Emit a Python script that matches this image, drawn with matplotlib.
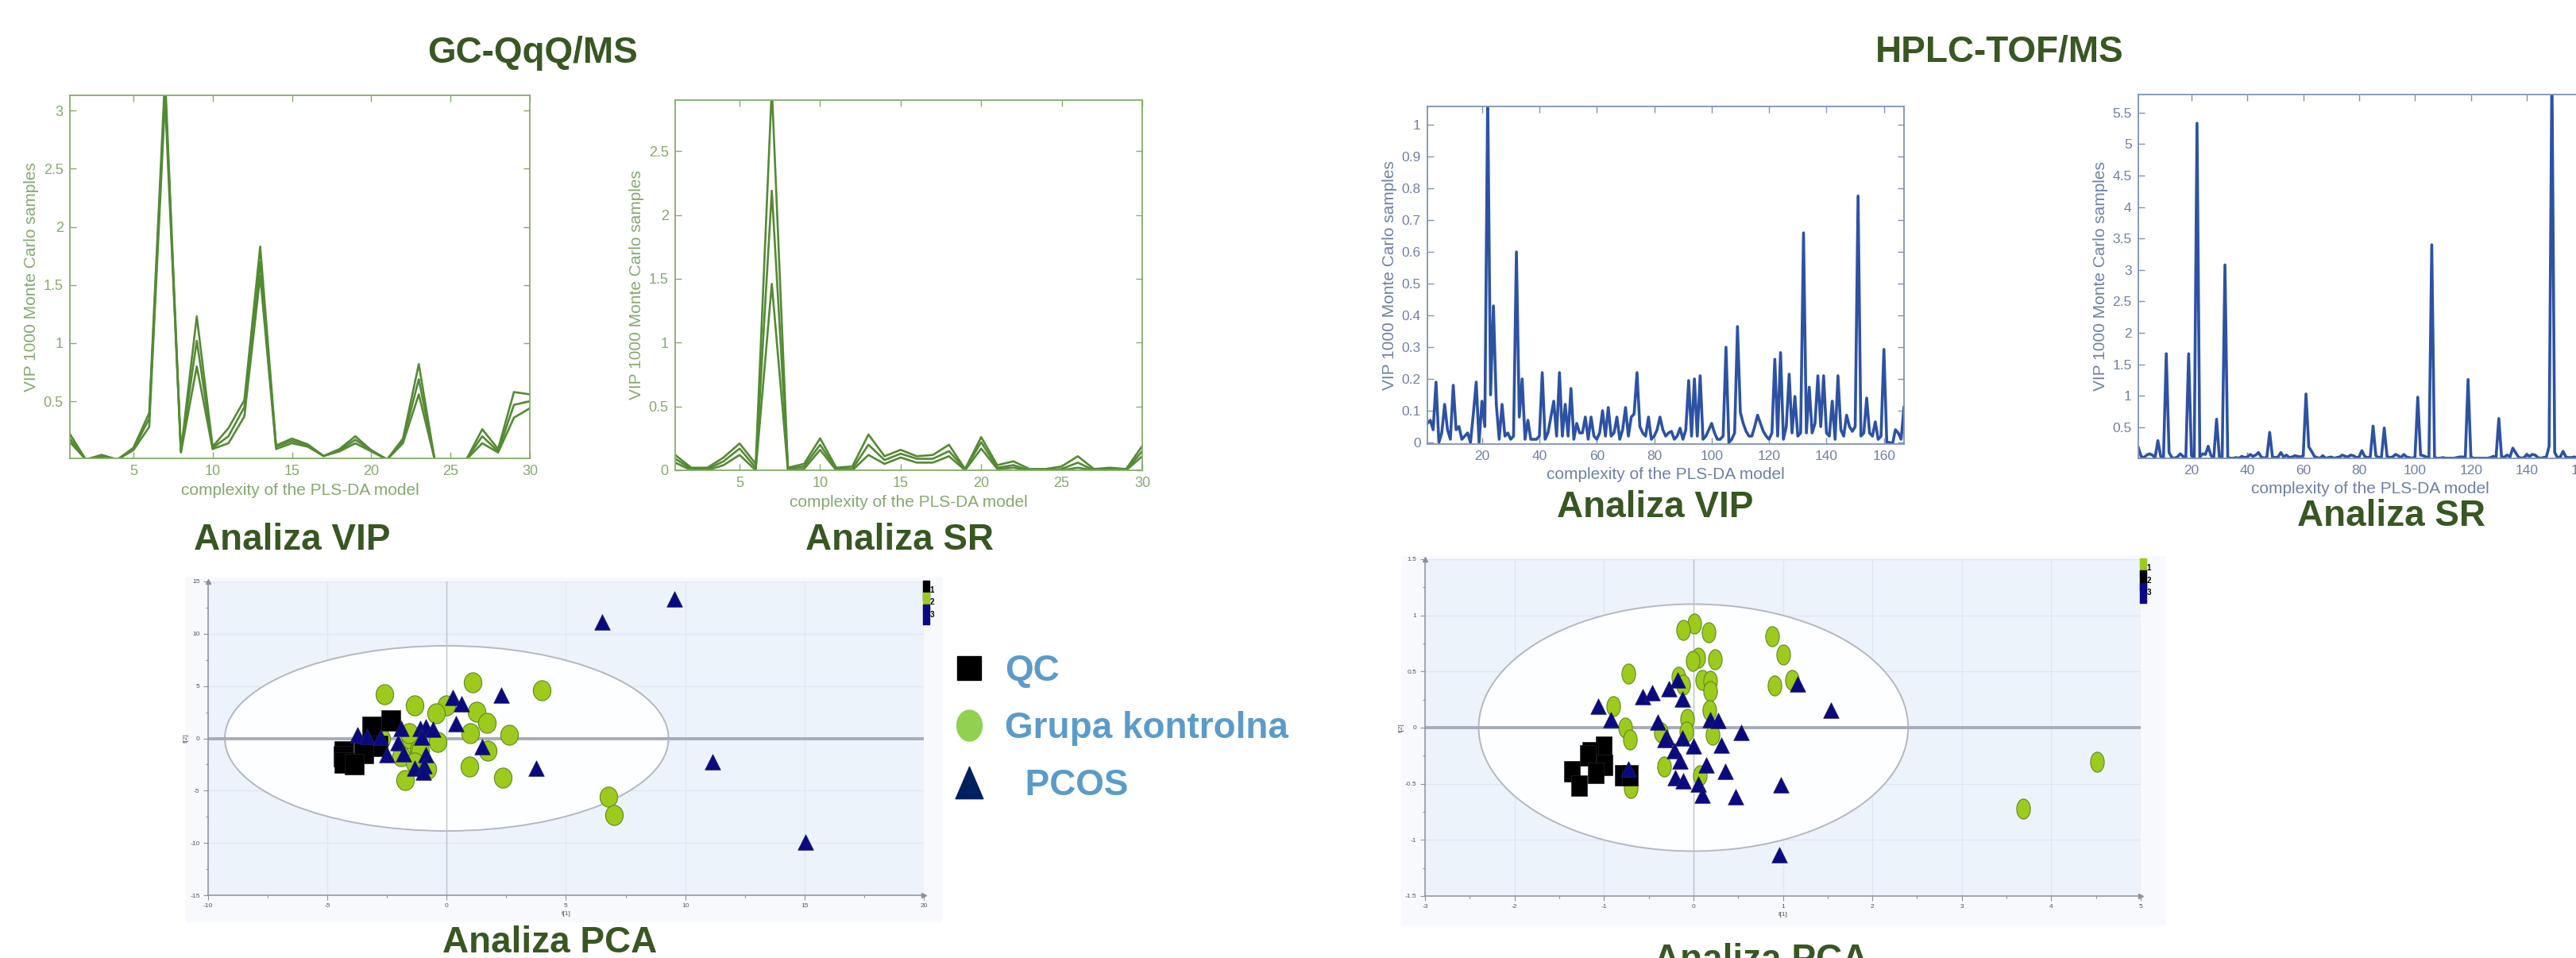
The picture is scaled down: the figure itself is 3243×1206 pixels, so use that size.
import numpy as np
import matplotlib.pyplot as plt
from matplotlib.path import Path
from matplotlib.patches import Ellipse, Rectangle
from matplotlib.lines import Line2D
from matplotlib.ticker import FuncFormatter, MultipleLocator

plt.rcParams['font.family'] = ['Liberation Sans', 'DejaVu Sans']

# ---------------- data ----------------
gc_x = list(range(1, 31))
gc_vip_hi = [0.22, 0.00, 0.04, 0.00, 0.10, 0.40, 3.30, 0.07, 1.23, 0.11, 0.27, 0.51, 1.83, 0.12, 0.18,
             0.13, 0.03, 0.09, 0.20, 0.08, 0.00, 0.18, 0.82, 0.00, 0.00, 0.00, 0.26, 0.09, 0.58, 0.56]
gc_vip_mid = [0.18, 0.00, 0.03, 0.00, 0.09, 0.35, 3.20, 0.07, 1.02, 0.10, 0.20, 0.45, 1.70, 0.11, 0.16,
              0.12, 0.03, 0.08, 0.17, 0.08, 0.00, 0.16, 0.69, 0.00, 0.00, 0.00, 0.20, 0.07, 0.47, 0.50]
gc_vip_lo = [0.15, 0.00, 0.02, 0.00, 0.08, 0.28, 3.10, 0.06, 0.80, 0.09, 0.14, 0.37, 1.58, 0.09, 0.14,
             0.11, 0.03, 0.07, 0.14, 0.07, 0.00, 0.14, 0.56, 0.00, 0.00, 0.00, 0.14, 0.06, 0.36, 0.44]

gc_sr_hi = [0.12, 0.02, 0.02, 0.10, 0.21, 0.05, 3.00, 0.02, 0.05, 0.25, 0.02, 0.03, 0.28, 0.11, 0.16,
            0.11, 0.12, 0.20, 0.01, 0.26, 0.04, 0.07, 0.01, 0.01, 0.03, 0.11, 0.01, 0.02, 0.01, 0.19]
gc_sr_mid = [0.09, 0.01, 0.01, 0.07, 0.17, 0.02, 2.19, 0.01, 0.03, 0.20, 0.01, 0.01, 0.20, 0.08, 0.13,
             0.09, 0.09, 0.15, 0.01, 0.22, 0.02, 0.04, 0.00, 0.00, 0.01, 0.06, 0.00, 0.01, 0.00, 0.15]
gc_sr_lo = [0.06, 0.00, 0.00, 0.04, 0.12, 0.00, 1.46, 0.00, 0.01, 0.16, 0.00, 0.00, 0.12, 0.05, 0.10,
            0.06, 0.06, 0.11, 0.00, 0.17, 0.01, 0.02, 0.00, 0.00, 0.00, 0.02, 0.00, 0.00, 0.00, 0.11]

hplc_x = list(range(1, 168))
hplc_vip = [
    0.06, 0.07, 0.04, 0.19, 0.00, 0.03, 0.12, 0.04, 0.01, 0.18,
    0.04, 0.05, 0.01, 0.02, 0.03, 0.00, 0.09, 0.19, 0.00, 0.13,
    0.05, 1.10, 0.15, 0.43, 0.12, 0.01, 0.12, 0.02, 0.03, 0.01,
    0.02, 0.60, 0.08, 0.20, 0.01, 0.07, 0.01, 0.01, 0.01, 0.02,
    0.22, 0.01, 0.03, 0.08, 0.13, 0.02, 0.22, 0.02, 0.12, 0.02,
    0.17, 0.01, 0.06, 0.03, 0.03, 0.08, 0.01, 0.08, 0.02, 0.01,
    0.03, 0.10, 0.02, 0.11, 0.02, 0.03, 0.08, 0.01, 0.04, 0.11,
    0.02, 0.08, 0.09, 0.22, 0.05, 0.03, 0.02, 0.08, 0.01, 0.02,
    0.04, 0.08, 0.04, 0.02, 0.03, 0.035, 0.01, 0.02, 0.045, 0.01,
    0.04, 0.195, 0.02, 0.20, 0.02, 0.21, 0.01, 0.02, 0.04, 0.06,
    0.03, 0.01, 0.01, 0.02, 0.30, 0.00, 0.01, 0.03, 0.365, 0.095,
    0.06, 0.035, 0.02, 0.02, 0.05, 0.086, 0.06, 0.035, 0.02, 0.01,
    0.03, 0.262, 0.02, 0.283, 0.01, 0.05, 0.215, 0.03, 0.145, 0.02,
    0.03, 0.66, 0.03, 0.174, 0.03, 0.06, 0.21, 0.05, 0.21, 0.03,
    0.02, 0.13, 0.01, 0.21, 0.04, 0.02, 0.086, 0.05, 0.035, 0.05,
    0.776, 0.02, 0.03, 0.14, 0.03, 0.02, 0.065, 0.01, 0.02, 0.293,
    0.00, 0.00, -0.005, 0.04, 0.03, 0.01, 0.111]
hplc_sr = [
    0.18, 0.04, 0.02, 0.06, 0.08, 0.06, 0.02, 0.29, 0.04, 0.02,
    1.67, 0.10, 0.02, 0.01, 0.03, 0.08, 0.04, 0.02, 1.67, 0.05,
    0.02, 5.33, 0.03, 0.08, 0.07, 0.20, 0.05, 0.02, 0.63, 0.03,
    0.02, 3.08, 0.02, 0.01, 0.01, 0.02, 0.01, 0.04, 0.02, 0.03,
    0.07, 0.04, 0.06, 0.10, 0.03, 0.01, 0.03, 0.42, 0.03, 0.02,
    0.03, 0.10, 0.03, 0.06, 0.02, 0.03, 0.05, 0.04, 0.03, 0.05,
    1.03, 0.19, 0.12, 0.04, 0.02, 0.01, 0.05, 0.01, 0.02, 0.03,
    0.01, 0.02, 0.03, 0.06, 0.04, 0.03, 0.06, 0.05, 0.02, 0.03,
    0.13, 0.04, 0.02, 0.03, 0.52, 0.05, 0.02, 0.03, 0.49, 0.04,
    0.02, 0.03, 0.07, 0.05, 0.02, 0.07, 0.03, 0.02, 0.01, 0.03,
    0.98, 0.06, 0.05, 0.03, 0.02, 3.40, 0.02, 0.01, 0.01, 0.02,
    0.01, 0.01, 0.01, 0.01, 0.02, 0.03, 0.03, 0.02, 1.26, 0.03,
    0.01, 0.01, 0.01, 0.01, 0.01, 0.01, 0.02, 0.04, 0.02, 0.64,
    0.02, 0.03, 0.06, 0.03, 0.17, 0.10, 0.03, 0.01, 0.02, 0.07,
    0.04, 0.07, 0.06, 0.02, 0.01, 0.02, 0.03, 0.20, 6.20, 0.10,
    0.02, 0.03, 0.12, 0.03, 0.02, 0.02, 0.03, 0.02, 0.02, 0.03,
    0.02, 0.02, 0.03, 0.02, 0.02, 0.03, 0.02]

# PCA scores, GC-QqQ/MS
gc_qc_t1 = [-2.34, -3.14, -2.86, -3.49, -4.31, -4.35, -4.31, -3.86]
gc_qc_t2 = [1.68, 1.09, -0.69, -1.37, -1.27, -1.70, -2.29, -2.47]
gc_ctrl_t1 = [1.10, 3.98, -2.60, -1.33, -0.02, -0.44, 1.24, 1.69, 0.98, 2.62, -0.37, -1.52, -1.57,
              -2.74, -3.26, -1.17, -1.10, 1.71, -1.92, -1.33, -0.80, 0.96, 2.34, -1.73, 6.79, 7.03]
gc_ctrl_t2 = [5.34, 4.58, 4.20, 3.18, 3.18, 2.42, 2.57, 1.50, 0.46, 0.33, -0.31, -0.05, 0.46,
              -0.05, -0.81, -1.07, -1.20, -1.15, -1.70, -2.34, -2.90, -2.72, -3.74, -3.99, -5.57, -7.30]
gc_pcos_t1 = [9.56, 6.51, 2.30, 0.26, 0.63, 0.40, -1.90, -1.10, -0.87, -0.59, -1.03, -3.75, -3.33,
              -2.79, -2.04, -2.51, -1.80, -0.87, -1.33, -0.94, -0.98, 1.48, 3.75, 11.15, 15.04]
gc_pcos_t2 = [13.31, 11.15, 4.15, 3.94, 3.33, 1.40, 0.97, 0.97, 1.09, 0.84, 0.13, 0.33, 0.20,
              0.08, -0.43, -1.58, -1.45, -1.58, -2.85, -2.60, -3.23, -0.81, -2.85, -2.21, -9.92]
gc_ellipse = (18.6, 17.7)

# PCA scores, HPLC-TOF/MS
lc_ctrl_t1 = [0.01, -0.11, 0.17, 0.88, 1.00, 0.05, -0.01, 0.24, -0.73, -0.17, 0.10, 0.19, 1.10, -0.11,
              0.91, 0.19, -0.90, 0.18, -0.07, -0.76, -0.08, -0.36, 0.21, -0.71, -0.33, 0.07, -0.70, 4.51, 3.69]
lc_ctrl_t2 = [0.927, 0.870, 0.846, 0.816, 0.650, 0.626, 0.591, 0.608, 0.478, 0.454, 0.426, 0.414, 0.426,
              0.383, 0.378, 0.326, 0.189, 0.154, 0.076, 0.0, -0.035, -0.043, -0.066, -0.106, -0.350,
              -0.426, -0.539, -0.307, -0.721]
lc_qc_t1 = [-1.00, -1.15, -1.18, -0.99, -1.09, -1.36, -1.28, -0.79, -0.71]
lc_qc_t2 = [-0.173, -0.220, -0.248, -0.336, -0.402, -0.390, -0.520, -0.426, -0.426]
lc_pcos_t1 = [-0.18, 1.16, -0.27, -0.57, -0.46, -0.12, 1.54, -1.06, -0.92, -0.40, 0.19, 0.28, 0.53, -0.30,
              -0.32, -0.12, 0.00, 0.31, -0.21, -0.15, 0.14, 0.36, -0.20, -0.11, 0.05, -0.73, 0.98, 0.10,
              0.47, 0.96]
lc_pcos_t2 = [0.426, 0.390, 0.348, 0.277, 0.312, 0.253, 0.154, 0.194, 0.071, 0.052, 0.071, 0.066, -0.043,
              -0.083, -0.106, -0.090, -0.165, -0.154, -0.208, -0.296, -0.331, -0.390, -0.449, -0.473,
              -0.501, -0.366, -0.508, -0.603, -0.615, -1.135]
lc_ellipse = (4.8, 2.2)

legend_labels = ['QC', 'Grupa kontrolna', '  PCOS']

# ---------------- styling ----------------
W, H = 3243, 1206
GC_LINE, GC_AX, GC_TXT = '#548a34', '#86ab6c', '#86a870'
LC_LINE, LC_AX, LC_TXT = '#2d52a3', '#7f92b8', '#6f80a6'
HEAD = '#385723'
QC_C, CTRL_C, CTRL_E, PCOS_C = '#000000', '#9ccb1e', '#5f8a1a', '#0a0a80'


def box(l, t, r, b):
    return [l / W, 1 - b / H, (r - l) / W, (b - t) / H]


def ell_path(a):
    t = np.linspace(0, 2 * np.pi, 61)
    return Path(np.column_stack([a * np.cos(t), np.sin(t)]), closed=True)


def rect_path(a):
    return Path([(-a, -1), (a, -1), (a, 1), (-a, 1), (-a, -1)], closed=True)


def tri_path(a):
    return Path([(-a, -1), (a, -1), (0, 1), (-a, -1)], closed=True)


def matlab_axes(ax, ax_c, txt_c, labelsize=12):
    for sp in ax.spines.values():
        sp.set_color(ax_c)
        sp.set_linewidth(1.3)
    ax.tick_params(direction='in', top=True, right=True, length=6, width=1,
                   colors=ax_c, labelcolor=txt_c, labelsize=labelsize, pad=6)
    ax.yaxis.set_major_formatter(FuncFormatter(lambda v, p: '%g' % v))
    ax.set_ylabel('VIP 1000 Monte Carlo samples', fontsize=15, color=txt_c)
    ax.set_xlabel('complexity of the PLS-DA model', fontsize=15, color=txt_c, labelpad=4)


fig = plt.figure(figsize=(W / 100, H / 100), dpi=100)

# faint backdrop of the two PCA screenshots
fig.patches.append(Rectangle((234 / W, 1 - 1160 / H), (1185 - 234) / W, (1160 - 727) / H,
                             transform=fig.transFigure, color='#f7f9fd', zorder=-5))
fig.patches.append(Rectangle((1764 / W, 1 - 1163 / H), (2725 - 1764) / W, (1163 - 700) / H,
                             transform=fig.transFigure, color='#f7f9fd', zorder=-5))

# --- GC VIP ---
ax1 = fig.add_axes(box(88, 120, 667, 577))
for s in (gc_vip_lo, gc_vip_mid, gc_vip_hi):
    ax1.plot(gc_x, s, color=GC_LINE, lw=1.9)
ax1.set_xlim(1, 30)
ax1.set_ylim(0.01, 3.13)
ax1.set_xticks([5, 10, 15, 20, 25, 30])
ax1.set_yticks([0.5, 1, 1.5, 2, 2.5, 3])
matlab_axes(ax1, GC_AX, GC_TXT, 13)

# --- GC SR ---
ax2 = fig.add_axes(box(850, 126, 1438, 592))
for s in (gc_sr_lo, gc_sr_mid, gc_sr_hi):
    ax2.plot(gc_x, s, color=GC_LINE, lw=1.9)
ax2.set_xlim(1, 30)
ax2.set_ylim(0, 2.9)
ax2.set_xticks([5, 10, 15, 20, 25, 30])
ax2.set_yticks([0, 0.5, 1, 1.5, 2, 2.5])
matlab_axes(ax2, GC_AX, GC_TXT, 13)

# --- HPLC VIP ---
ax3 = fig.add_axes(box(1797, 134, 2397, 559))
ax3.plot(hplc_x, hplc_vip, color=LC_LINE, lw=2.6)
ax3.set_xlim(1, 167)
ax3.set_ylim(-0.005, 1.058)
ax3.set_xticks(range(20, 161, 20))
ax3.set_yticks(np.arange(0, 1.01, 0.1))
matlab_axes(ax3, LC_AX, LC_TXT, 12.5)

# --- HPLC SR (runs off the right edge) ---
ax4 = fig.add_axes(box(2692, 119, 3276, 577))
ax4.plot(hplc_x, hplc_sr, color=LC_LINE, lw=2.6)
ax4.set_xlim(1, 167)
ax4.set_ylim(0.008, 5.786)
ax4.set_xticks(range(20, 161, 20))
ax4.set_yticks(np.arange(0.5, 5.51, 0.5))
matlab_axes(ax4, LC_AX, LC_TXT, 12.5)


# --- PCA plots ---
def pca_axes(ax, xlim, ylim, xmaj, ymaj, xmin, ymin, ell, groups, legend_order, a_circ, a_sq):
    ax.set_facecolor('#edf3fb')
    ax.set_axisbelow(True)
    ax.add_patch(Ellipse((0, 0), ell[0], ell[1], facecolor='#fdfeff', edgecolor='#b3b7c1', lw=1.4, zorder=1))
    ax.axhline(0, color='#a7adb8', lw=2.8, zorder=1.6)
    ax.axvline(0, color='#bcc2cc', lw=1.0, zorder=1.6)
    ax.set_xlim(*xlim)
    ax.set_ylim(*ylim)
    ax.xaxis.set_major_locator(MultipleLocator(xmaj))
    ax.yaxis.set_major_locator(MultipleLocator(ymaj))
    ax.xaxis.set_minor_locator(MultipleLocator(xmin))
    ax.yaxis.set_minor_locator(MultipleLocator(ymin))
    ax.grid(True, which='major', color='#dfe6f0', lw=0.9)
    ax.xaxis.set_major_formatter(FuncFormatter(lambda v, p: '%g' % v))
    ax.yaxis.set_major_formatter(FuncFormatter(lambda v, p: '%g' % v))
    for k in ('top', 'right'):
        ax.spines[k].set_visible(False)
    for k in ('left', 'bottom'):
        ax.spines[k].set_color('#8c919b')
        ax.spines[k].set_linewidth(1.1)
    ax.tick_params(which='both', direction='out', colors='#8c919b', labelcolor='#555555',
                   labelsize=6, length=4, width=0.8)
    ax.tick_params(which='minor', length=2.5)
    ax.plot(1, 0, '>', color='#8c919b', ms=5, transform=ax.transAxes, clip_on=False)
    ax.plot(0, 1, '^', color='#8c919b', ms=5, transform=ax.transAxes, clip_on=False)
    ax.set_xlabel('t[1]', fontsize=6, color='#555555', labelpad=2)
    ax.set_ylabel('t[2]', fontsize=6, color='#555555', labelpad=1)
    (qx, qy), (cx, cy), (px, py) = groups
    ax.scatter(cx, cy, marker=ell_path(a_circ), s=330, c=CTRL_C, edgecolors=CTRL_E, linewidths=0.8, zorder=3)
    ax.scatter(px, py, marker=tri_path(1.0), s=200, c=PCOS_C, edgecolors='#23235e', linewidths=0.5, zorder=4)
    ax.scatter(qx, qy, marker=rect_path(a_sq), s=330, c=QC_C, edgecolors='#222222', linewidths=0.5, zorder=3.5)
    cols = {'qc': QC_C, 'ctrl': CTRL_C, 'pcos': PCOS_C}
    hs = [Line2D([], [], ls='none', marker=rect_path(0.35), ms=18, mfc=cols[g], mec=cols[g])
          for g in legend_order]
    ax.legend(hs, ['1', '2', '3'], loc='upper left', bbox_to_anchor=(1.0, 0.985), frameon=False,
              handlelength=0.6, handletextpad=0.15, labelspacing=0.55, borderpad=0, borderaxespad=0,
              prop={'size': 7, 'weight': 'bold'})


ax5 = fig.add_axes(box(262, 732, 1163, 1127))
pca_axes(ax5, (-10, 20), (-15, 15), 5, 5, 2.5, 2.5, gc_ellipse,
         [(gc_qc_t1, gc_qc_t2), (gc_ctrl_t1, gc_ctrl_t2), (gc_pcos_t1, gc_pcos_t2)],
         ['qc', 'ctrl', 'pcos'], 0.88, 0.95)

ax6 = fig.add_axes(box(1794, 704, 2695, 1128))
pca_axes(ax6, (-3, 5), (-1.5, 1.5), 1, 0.5, 0.5, 0.25, lc_ellipse,
         [(lc_qc_t1, lc_qc_t2), (lc_ctrl_t1, lc_ctrl_t2), (lc_pcos_t1, lc_pcos_t2)],
         ['ctrl', 'qc', 'pcos'], 0.68, 0.82)

# --- group legend in the middle ---
handles = [Line2D([], [], ls='none', marker='s', ms=22, mfc=QC_C, mec=QC_C),
           Line2D([], [], ls='none', marker=ell_path(0.82), ms=28, mfc='#92d050', mec='#92d050'),
           Line2D([], [], ls='none', marker=tri_path(0.86), ms=29, mfc='#002060', mec='#002060')]
fig.legend(handles, legend_labels, loc='center left', bbox_to_anchor=(1203 / W, 1 - 917 / H),
           frameon=False, handlelength=0.75, handletextpad=0.6, labelspacing=0.62, borderpad=0,
           borderaxespad=0, labelcolor='#5b9bc9', prop={'size': 33, 'weight': 'bold'})


# --- headings and captions ---
def head(x, y, s, va='center'):
    fig.text(x / W, 1 - y / H, s, ha='center', va=va, fontsize=33, fontweight='bold', color=HEAD)


head(670, 67, 'GC-QqQ/MS')
head(2517, 65, 'HPLC-TOF/MS')
head(368, 680, 'Analiza VIP')
head(1132, 680, 'Analiza SR')
head(2084, 639, 'Analiza VIP')
head(3010, 650, 'Analiza SR')
head(692, 1187, 'Analiza PCA')
head(2217, 1187, 'Analiza PCA', va='top')

fig.savefig('out.png', dpi=100, facecolor='white')
